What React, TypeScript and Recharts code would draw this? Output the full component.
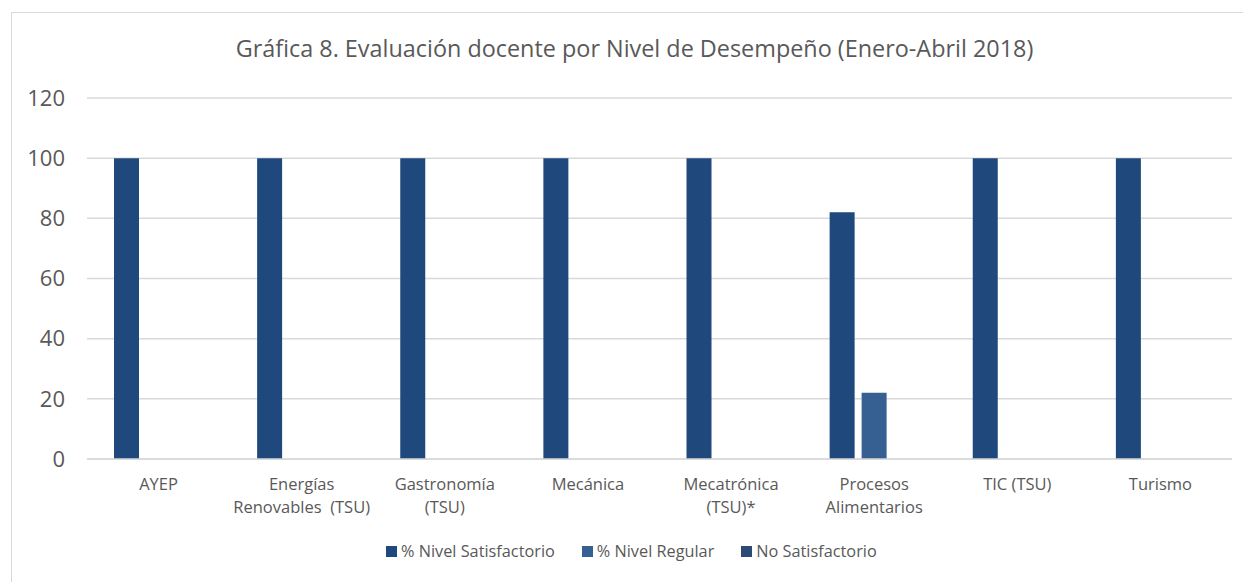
import React from 'react';
import { BarChart, Bar, XAxis, YAxis, CartesianGrid } from 'recharts';

const categories = [
  'AYEP',
  'Energías|Renovables  (TSU)',
  'Gastronomía|(TSU)',
  'Mecánica',
  'Mecatrónica|(TSU)*',
  'Procesos|Alimentarios',
  'TIC (TSU)',
  'Turismo',
];
const nivelSatisfactorio = [100, 100, 100, 100, 100, 82, 100, 100];
const nivelRegular = [0, 0, 0, 0, 0, 22, 0, 0];
const noSatisfactorio = [0, 0, 0, 0, 0, 0, 0, 0];
const yTicks = [0, 20, 40, 60, 80, 100, 120];

const series = [
  { key: 'satisfactorio', name: '% Nivel Satisfactorio', color: '#1F497D' },
  { key: 'regular', name: '% Nivel Regular', color: '#376092' },
  { key: 'noSatisfactorio', name: 'No Satisfactorio', color: '#2C4A74' },
];

const data = categories.map((name, i) => ({
  name,
  satisfactorio: nivelSatisfactorio[i],
  regular: nivelRegular[i],
  noSatisfactorio: noSatisfactorio[i],
}));

const FONT = '"Open Sans", sans-serif';
const GRAY = '#595959';

function CategoryTick({ x, y, payload }: any) {
  const lines = String(payload.value).split('|');
  return (
    <text x={x} y={y} textAnchor="middle" fill={GRAY} fontFamily={FONT} fontSize={16.5}>
      {lines.map((l, i) => (
        <tspan key={i} x={x} dy={23} style={{ whiteSpace: 'pre' }}>
          {l}
        </tspan>
      ))}
    </text>
  );
}

function LegendRow() {
  return (
    <div
      style={{
        position: 'absolute',
        left: 378,
        top: 532,
        display: 'flex',
        gap: 27,
        fontFamily: FONT,
        fontSize: 16.3,
        color: GRAY,
        whiteSpace: 'nowrap',
      }}
    >
      {series.map((s) => (
        <div key={s.key} style={{ display: 'flex', alignItems: 'center' }}>
          <span style={{ width: 11, height: 11, background: s.color, marginRight: 4 }} />
          <span>{s.name}</span>
        </div>
      ))}
    </div>
  );
}

export default function App() {
  return (
    <div style={{ position: 'relative', width: 1243, height: 574, overflow: 'hidden', background: '#fff' }}>
      <div
        style={{
          position: 'absolute',
          left: 3,
          top: 4,
          width: 1300,
          height: 700,
          border: '1px solid #D9D9D9',
        }}
      />
      <div
        style={{
          position: 'absolute',
          left: 0,
          width: 1253,
          top: 24,
          textAlign: 'center',
          fontFamily: FONT,
          fontSize: 23.4,
          color: GRAY,
        }}
      >
        Gráfica 8. Evaluación docente por Nivel de Desempeño (Enero-Abril 2018)
      </div>
      <BarChart
        width={1243}
        height={574}
        data={data}
        margin={{ top: 90, right: 19, left: 0, bottom: 0 }}
        barCategoryGap={27}
        barGap={7}
        style={{ position: 'absolute', left: 0, top: 0 }}
      >
        <CartesianGrid vertical={false} stroke="#D9D9D9" strokeWidth={1.5} />
        <XAxis
          dataKey="name"
          axisLine={{ stroke: '#D9D9D9', strokeWidth: 1.5 }}
          tickLine={false}
          tick={<CategoryTick />}
          interval={0}
          height={123}
        />
        <YAxis
          width={79}
          domain={[0, 120]}
          ticks={yTicks}
          axisLine={false}
          tickLine={false}
          tickSize={0}
          tickMargin={22}
          tick={{ fill: GRAY, fontFamily: FONT, fontSize: 22 }}
        />
        {series.map((s) => (
          <Bar key={s.key} dataKey={s.key} name={s.name} fill={s.color} isAnimationActive={false} />
        ))}
      </BarChart>
      <LegendRow />
    </div>
  );
}
